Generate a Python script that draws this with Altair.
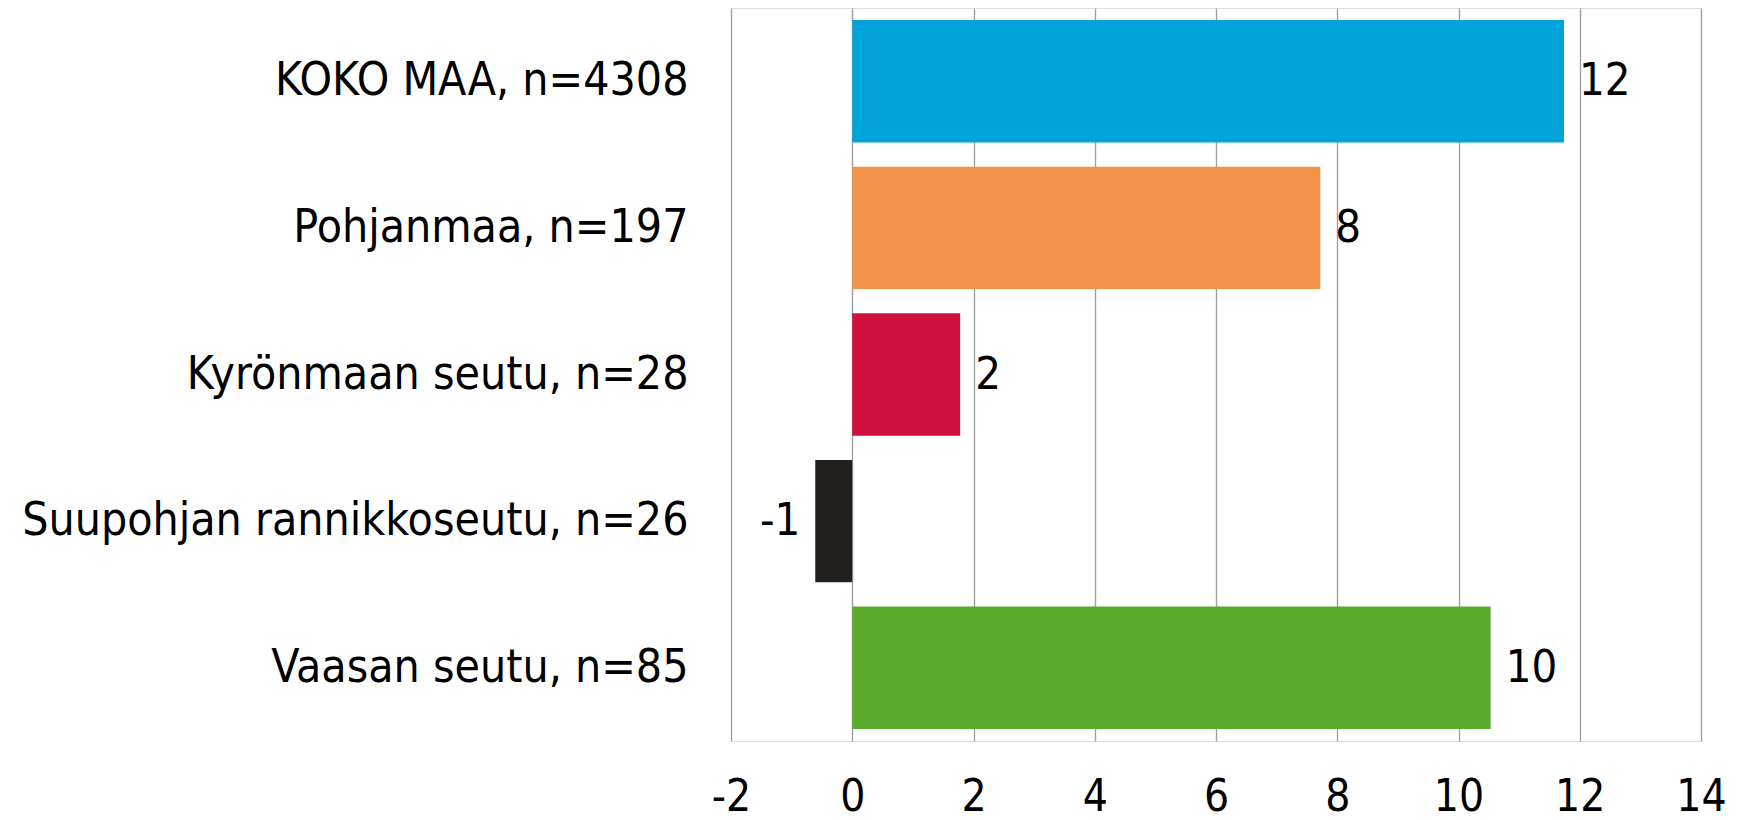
import altair as alt
import pandas as pd

categories = ["KOKO MAA, n=4308", "Pohjanmaa, n=197", "Kyrönmaan seutu, n=28",
              "Suupohjan rannikkoseutu, n=26", "Vaasan seutu, n=85"]
values = [11.74, 7.72, 1.78, -0.61, 10.53]
labels = ["12", "8", "2", "-1", "10"]
colors = ["#02A3DA", "#F0924A", "#D0103D", "#22201F", "#5AAA2E"]
x_ticks = [-2, 0, 2, 4, 6, 8, 10, 12, 14]

df = pd.DataFrame({"cat": categories, "val": values, "lab": labels, "col": colors})

FONT = "DejaVu Sans Condensed, DejaVu Sans"

y_enc = alt.Y("cat:N", sort=categories,
              scale=alt.Scale(paddingInner=0.165, paddingOuter=0.0825),
              axis=alt.Axis(title=None, labelFont=FONT, labelFontSize=46,
                            labelColor="#000000", labelPadding=43,
                            ticks=False, domain=False, labelLimit=900))

x_enc = alt.X("val:Q", scale=alt.Scale(domain=[-2, 14], nice=False, zero=False),
              axis=alt.Axis(title=None, values=x_ticks,
                            labelExpr="toString(datum.value)",
                            labelFont=FONT, labelFontSize=44, labelColor="#000000",
                            labelPadding=34, labelBaseline="top",
                            ticks=False, domain=False,
                            grid=True, gridColor="#A0A0A0", gridWidth=1.4,
                            labelFlush=False))

bars = alt.Chart(df).mark_bar().encode(
    y=y_enc, x=x_enc, color=alt.Color("col:N", scale=None)
)

pos_text = alt.Chart(df).transform_filter("datum.val >= 0").mark_text(
    align="left", baseline="middle", dx=15, font=FONT, fontSize=45, color="#000000"
).encode(y=alt.Y("cat:N", sort=categories), x="val:Q", text="lab:N")

neg_text = alt.Chart(df).transform_filter("datum.val < 0").mark_text(
    align="right", baseline="middle", dx=-15, font=FONT, fontSize=45, color="#000000"
).encode(y=alt.Y("cat:N", sort=categories), x="val:Q", text="lab:N")

chart = alt.layer(bars, pos_text, neg_text).properties(
    width=970, height=733,
    autosize=alt.AutoSizeParams(type="none"),
    padding={"left": 723, "top": 0, "right": 32, "bottom": 88},
).configure_view(stroke="#9A9A9A", strokeWidth=2).configure(background="#FFFFFF")

chart.save("out.html", embed_options={"renderer": "svg", "actions": False})
